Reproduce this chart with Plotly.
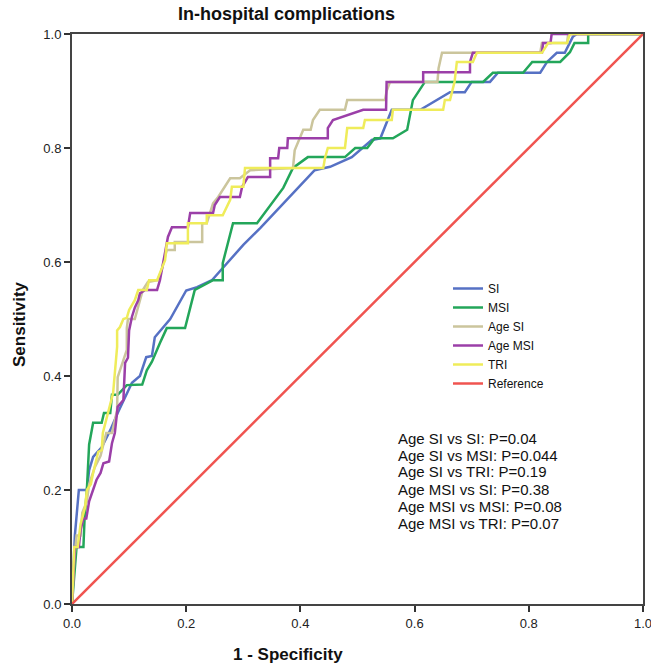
import plotly.graph_objects as go

# ---------------- data ----------------
si_fpr = [0, 0.005, 0.012, 0.026, 0.03, 0.037, 0.052, 0.067, 0.08, 0.093, 0.105, 0.119, 0.13, 0.14,
          0.145, 0.172, 0.20, 0.219, 0.245, 0.30, 0.33, 0.425, 0.452, 0.49, 0.525, 0.54, 0.56, 0.61,
          0.662, 0.688, 0.70, 0.732, 0.746, 0.82, 0.832, 0.849, 0.863, 0.877, 0.884, 1.0]
si_tpr = [0, 0.12, 0.2, 0.2, 0.235, 0.258, 0.275, 0.305, 0.335, 0.363, 0.388, 0.40, 0.433, 0.435,
          0.468, 0.50, 0.55, 0.556, 0.568, 0.63, 0.66, 0.761, 0.767, 0.784, 0.814, 0.817, 0.867, 0.867,
          0.898, 0.898, 0.916, 0.916, 0.932, 0.932, 0.951, 0.967, 0.967, 0.995, 1.0, 1.0]

msi_fpr = [0, 0.004, 0.008, 0.02, 0.022, 0.026, 0.03, 0.037, 0.052, 0.056, 0.067, 0.07, 0.08, 0.096,
           0.123, 0.131, 0.14, 0.154, 0.166, 0.198, 0.215, 0.247, 0.264, 0.264, 0.282, 0.324, 0.37,
           0.387, 0.413, 0.478, 0.496, 0.517, 0.53, 0.562, 0.587, 0.597, 0.618, 0.72, 0.737, 0.79,
           0.806, 0.855, 0.872, 0.88, 0.904, 0.904, 1.0]
msi_tpr = [0, 0.05, 0.1, 0.1, 0.15, 0.2, 0.28, 0.318, 0.318, 0.335, 0.335, 0.367, 0.367, 0.384,
           0.385, 0.41, 0.425, 0.458, 0.484, 0.484, 0.551, 0.568, 0.568, 0.598, 0.668, 0.668, 0.73,
           0.765, 0.784, 0.784, 0.8, 0.8, 0.817, 0.817, 0.832, 0.884, 0.916, 0.916, 0.932, 0.932,
           0.951, 0.951, 0.968, 0.984, 0.984, 1.0, 1.0]

agesi_fpr = [0, 0.004, 0.008, 0.015, 0.018, 0.026, 0.03, 0.04, 0.05, 0.06, 0.07, 0.079, 0.08, 0.096,
             0.096, 0.098, 0.11, 0.119, 0.124, 0.133, 0.15, 0.157, 0.166, 0.18, 0.18, 0.228, 0.228,
             0.236, 0.247, 0.256, 0.277, 0.294, 0.312, 0.387, 0.39, 0.405, 0.418, 0.422, 0.434, 0.478,
             0.482, 0.548, 0.551, 0.557, 0.64, 0.642, 0.648, 0.82, 0.823, 0.867, 0.869, 1.0]
agesi_tpr = [0, 0.08, 0.12, 0.12, 0.16, 0.18, 0.21, 0.24, 0.26, 0.3, 0.3, 0.34, 0.398, 0.446,
             0.484, 0.5, 0.5, 0.533, 0.551, 0.565, 0.568, 0.586, 0.621, 0.621, 0.635, 0.635, 0.668,
             0.668, 0.703, 0.714, 0.747, 0.747, 0.761, 0.765, 0.796, 0.832, 0.832, 0.849, 0.867, 0.867,
             0.884, 0.884, 0.9, 0.916, 0.916, 0.94, 0.967, 0.967, 0.984, 0.984, 1.0, 1.0]

agemsi_fpr = [0, 0.005, 0.012, 0.015, 0.02, 0.025, 0.03, 0.035, 0.043, 0.05, 0.055, 0.065, 0.07, 0.075,
              0.08, 0.09, 0.093, 0.098, 0.1, 0.105, 0.11, 0.116, 0.119, 0.128, 0.149, 0.154, 0.16, 0.163,
              0.168, 0.175, 0.203, 0.207, 0.247, 0.25, 0.259, 0.294, 0.298, 0.308, 0.347, 0.347, 0.361,
              0.363, 0.377, 0.378, 0.448, 0.448, 0.457, 0.51, 0.55, 0.551, 0.615, 0.615, 0.697, 0.697,
              0.702, 0.823, 0.825, 0.838, 0.84, 1.0]
agemsi_tpr = [0, 0.1, 0.1, 0.13, 0.15, 0.15, 0.18, 0.195, 0.218, 0.23, 0.247, 0.25, 0.282, 0.3,
              0.346, 0.358, 0.423, 0.432, 0.48, 0.504, 0.52, 0.533, 0.545, 0.551, 0.551, 0.568, 0.6, 0.616,
              0.644, 0.661, 0.661, 0.686, 0.686, 0.7, 0.714, 0.714, 0.732, 0.749, 0.749, 0.782, 0.782,
              0.8, 0.8, 0.817, 0.817, 0.835, 0.849, 0.867, 0.867, 0.916, 0.916, 0.933, 0.933, 0.951,
              0.967, 0.967, 0.984, 0.984, 1.0, 1.0]

tri_fpr = [0, 0.004, 0.01, 0.015, 0.023, 0.026, 0.033, 0.037, 0.046, 0.052, 0.054, 0.062, 0.07, 0.072,
           0.075, 0.079, 0.079, 0.084, 0.09, 0.096, 0.1, 0.11, 0.116, 0.131, 0.135, 0.149, 0.163, 0.166,
           0.203, 0.203, 0.236, 0.236, 0.264, 0.271, 0.277, 0.28, 0.3, 0.303, 0.44, 0.443, 0.448, 0.478,
           0.482, 0.51, 0.513, 0.56, 0.562, 0.65, 0.653, 0.662, 0.67, 0.674, 0.702, 0.709, 0.823, 0.834,
           0.867, 0.872, 1.0]
tri_tpr = [0, 0.1, 0.1, 0.14, 0.17, 0.2, 0.21, 0.23, 0.267, 0.27, 0.3, 0.33, 0.358, 0.37,
           0.405, 0.451, 0.48, 0.486, 0.5, 0.502, 0.516, 0.533, 0.551, 0.551, 0.568, 0.568, 0.603, 0.633,
           0.633, 0.668, 0.668, 0.682, 0.682, 0.697, 0.709, 0.732, 0.732, 0.765, 0.765, 0.782, 0.8, 0.8,
           0.835, 0.835, 0.849, 0.849, 0.867, 0.867, 0.884, 0.884, 0.916, 0.951, 0.951, 0.967, 0.967, 0.984,
           0.984, 1.0, 1.0]

ref_fpr = [0, 1]
ref_tpr = [0, 1]

series_names = ["SI", "MSI", "Age SI", "Age MSI", "TRI", "Reference"]
p_labels = [
    "Age SI vs SI: P=0.04",
    "Age SI vs MSI: P=0.044",
    "Age SI vs TRI: P=0.19",
    "Age MSI vs SI: P=0.38",
    "Age MSI vs MSI: P=0.08",
    "Age MSI vs TRI: P=0.07",
]
tick_vals = [0, 0.2, 0.4, 0.6, 0.8, 1.0]
tick_text = ["0.0", "0.2", "0.4", "0.6", "0.8", "1.0"]

# ---------------- figure ----------------
colors = ["#5671c4", "#23a65a", "#cbc59c", "#9b3fa8", "#efec5a", "#f05450"]
xs = [si_fpr, msi_fpr, agesi_fpr, agemsi_fpr, tri_fpr, ref_fpr]
ys = [si_tpr, msi_tpr, agesi_tpr, agemsi_tpr, tri_tpr, ref_tpr]

W, H = 651, 669
L, R, T, B = 72, 8, 34, 65
PW, PH = W - L - R, H - T - B

def px2x(px):
    return (px - L) / PW

def py2y(py):
    return (H - B - py) / PH

fig = go.Figure()
for name, x, y, c in zip(series_names, xs, ys, colors):
    fig.add_trace(go.Scatter(x=x, y=y, mode="lines", name=name,
                             line=dict(color=c, width=2.5), hoverinfo="skip"))

axis_common = dict(
    range=[0, 1], tickvals=tick_vals, ticktext=tick_text, ticks="outside", ticklen=6,
    tickwidth=2, tickcolor="#333", showline=True, linecolor="#444", linewidth=2,
    mirror=True, showgrid=False, zeroline=False, automargin=False,
    ticklabeloverflow="allow",
    tickfont=dict(family="Liberation Sans, Arial", size=13, color="#222"),
)
fig.update_xaxes(**axis_common)
fig.update_yaxes(**axis_common)

annotations = [
    dict(text="<b>In-hospital complications</b>", x=px2x(286), y=py2y(14), xref="paper", yref="paper",
         showarrow=False, xanchor="center", yanchor="middle",
         font=dict(family="Liberation Sans, Arial", size=18, color="#111")),
    dict(text="<b>1 - Specificity</b>", x=px2x(288), y=py2y(654), xref="paper", yref="paper",
         showarrow=False, xanchor="center", yanchor="middle",
         font=dict(family="Liberation Sans, Arial", size=17, color="#111")),
    dict(text="<b>Sensitivity</b>", x=px2x(19), y=py2y(324), xref="paper", yref="paper",
         showarrow=False, xanchor="center", yanchor="middle", textangle=-90,
         font=dict(family="Liberation Sans, Arial", size=17, color="#111")),
]
for i, lab in enumerate(p_labels):
    annotations.append(dict(text=lab, x=px2x(396), y=py2y(438 + i * 17), xref="paper", yref="paper",
                            showarrow=False, xanchor="left", yanchor="middle",
                            font=dict(family="Liberation Sans, Arial", size=15, color="#111")))

fig.update_layout(
    width=W, height=H,
    margin=dict(l=L, r=R, t=T, b=B, pad=0, autoexpand=False),
    paper_bgcolor="white", plot_bgcolor="white",
    showlegend=True,
    legend=dict(x=px2x(448), y=py2y(274), xanchor="left", yanchor="top",
                bgcolor="rgba(0,0,0,0)", itemwidth=30, tracegroupgap=0,
                font=dict(family="Liberation Sans, Arial", size=12, color="#111")),
    annotations=annotations,
)

fig.write_html("out.html", config={"displayModeBar": False},
               post_script="document.body.style.margin='0';document.body.style.overflow='hidden';")
